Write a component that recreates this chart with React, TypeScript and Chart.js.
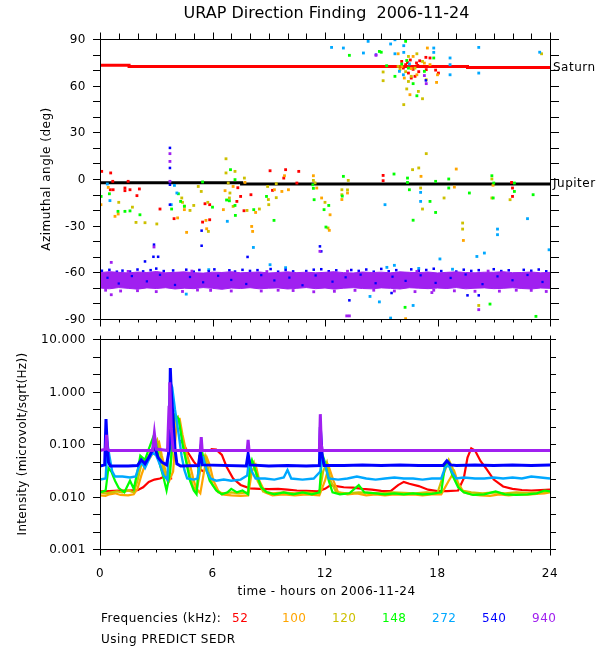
import React, { useEffect, useRef } from "react";
import { Chart, registerables } from "chart.js";

Chart.register(...registerables);

type Pt = [number, number | null];

// ---------------- axes / labels ----------------
const titleText = "URAP Direction Finding  2006-11-24";
const xTitle = "time - hours on 2006-11-24";
const topYTitle = "Azimuthal angle (deg)";
const bottomYTitle = "Intensity (microvolt/sqrt(Hz))";
const legendLabel = "Frequencies (kHz):";
const footNote = "Using PREDICT SEDR";
const hourTicks = [0, 1, 2, 3, 4, 5, 6, 7, 8, 9, 10, 11, 12, 13, 14, 15, 16, 17, 18, 19, 20, 21, 22, 23, 24];
const hourLabels = [0, 6, 12, 18, 24];
const angleTicks = [-90, -80, -70, -60, -50, -40, -30, -20, -10, 0, 10, 20, 30, 40, 50, 60, 70, 80, 90];
const angleLabels = [90, 60, 30, 0, -30, -60, -90];
const intensityTicks = [0.001, 0.00215, 0.00464, 0.01, 0.0215, 0.0464, 0.1, 0.215, 0.464, 1, 2.15, 4.64, 10];
const intensityLabels = [10, 1, 0.1, 0.01, 0.001];
const frequencies = ["52", "100", "120", "148", "272", "540", "940"];
const planetLabels = ["Saturn", "Jupiter"];
const planetLabelAngles = [72.3, -2.8];

const colors = ["#ff0000", "#ffa500", "#cdc000", "#00ff00", "#00a8ff", "#0000ff", "#a020f0"];

// ---------------- top panel: azimuthal angle ----------------
const saturnLine: Pt[] = [[0, 73.1], [1.55, 73.1], [1.55, 72.3], [19.6, 72.3], [19.6, 71.7], [24, 71.7]];
const jupiterLine: Pt[] = [[0, -2.4], [7.55, -2.4], [7.55, -3.2], [24, -3.2]];

const red52Angles: Pt[] = [
  [0.09, 4.9], [0.57, 3.9], [0.68, -1.5], [0.55, -6.9], [0.7, -6.9], [1.33, -5.8], [1.33, -7.5], [1.6, -6.9],
  [1.5, -1.5], [2.1, -6.4], [1.97, -10.7], [3.2, -19.3], [3.95, -25.5], [5.47, -27.7], [5.6, -15.9], [5.85, -16.5],
  [5.85, -26.2], [7.3, -14.4], [7.35, -5.6], [7.5, -11.2], [7.68, -20.4], [8.05, -10.1], [9.07, 5.3], [9.2, -7.3],
  [9.9, 6.0], [9.8, 0.6], [10.5, -2.6], [10.6, 4.9], [15.1, 2.3], [15.1, -1.1], [21.95, -2.2], [22.0, -5.8],
  [22.0, -11.2], [16.09, 75.6], [17.05, 76.0], [17.38, 78.2], [17.6, 77.8], [16.88, 74.6], [16.18, 71.3],
  [16.45, 68.1], [16.8, 66.0], [16.6, 64.9], [17.2, 72.4], [17.78, 72.4], [18.05, 68.1], [17.4, 70.3],
  [16.3, 73.5], [16.7, 70.5], [17.0, 69.0], [16.55, 76.5], [17.9, 70.0], [16.95, 73.0], [16.4, 74.8]
];
const orange100Angles: Pt[] = [
  [0.44, -5.4], [0.05, -16.5], [0.8, -24], [0.97, -22.5], [4.62, -34.3], [4.14, -25], [4.5, -19.7], [5.69, -32],
  [5.65, -26.6], [6.67, -7.5], [6.58, -19.7], [7.1, -4.8], [7.73, -2.2], [8.09, -30.5], [8.14, -33.7], [8.3, -21.5],
  [9.3, -6.9], [9.7, -8.0], [9.84, 2.1], [10.05, -6.9], [11.38, 2.1], [11.56, -5.8], [11.82, -12.2], [12.27, -23],
  [12.23, -33], [12.9, -13.2], [13.2, -9], [17.12, 1.7], [18.9, -5.2], [19.38, -39.5], [19.0, 6.4], [20.96, -4],
  [16.3, -89.8], [15.9, 80.5], [16.7, 78.8], [17.46, 84.2], [16.23, 64.9], [16.9, 67], [17.6, 73.5], [18.0, 67],
  [17.95, 62.1], [16.53, 54.2], [16.1, 72.4], [16.6, 71], [17.3, 74.5]
];
const yellow120Angles: Pt[] = [
  [1.0, -15], [1.92, -27.9], [2.4, -28.1], [3.03, -28.9], [1.73, -18.1], [4.36, -12.2], [4.4, -15], [4.5, -17.5],
  [4.8, -20.2], [5.0, -17], [5.24, -4.8], [5.4, -8], [5.75, -15], [5.78, -33.7], [6.72, 13], [6.72, 3.9], [6.84, -2.6],
  [6.93, -9], [6.9, -12.2], [7.1, -17.6], [7.2, 4.9], [7.7, 0.6], [7.84, -20.2], [8.94, -4.8], [8.98, -13.2],
  [9.0, -16.5], [8.5, -19.3], [9.4, -3], [9.4, -12], [11.38, -0.9], [11.47, -2.5], [12.0, -15], [12.16, -31.5],
  [12.9, -6.9], [12.9, -10.1], [13.24, -0.9], [13.2, -7], [17.4, 16.3], [16.67, 6], [17.0, 7.1], [17.1, -5.8],
  [17.2, -19.3], [18.35, -12.2], [19.34, -28.3], [19.34, -32.2], [20.9, 0], [20.9, -12.2], [21.87, -13.3],
  [20.2, -81.3], [15.1, 68.8], [15.1, 63.2], [16.2, 47.8], [16.36, 57.9], [16.45, 78.8], [16.9, 80.5], [16.98, 56.3],
  [17.2, 51.6], [16.45, 62.7], [16.8, 71.3], [17.4, 63.8], [15.9, 72.4], [17.2, 75.6], [16.3, 69], [16.6, 66],
  [16.0, 70.5], [23.55, 80.5]
];
const green148Angles: Pt[] = [
  [0.06, -11.2], [0.5, -9.5], [0.96, -20.8], [1.33, -20.8], [1.6, -20.5], [2.13, -23], [3.82, -19.3], [4.18, -9.5],
  [4.3, -14.4], [4.5, -17.5], [5.47, -1.9], [6.0, -18.1], [6.9, -14], [6.96, 6], [7.2, -0.4], [7.22, -23.4],
  [7.2, -17], [6.75, -13.5], [8.2, -19.7], [8.88, -11.2], [9.28, -26.6], [11.35, -3.7], [11.38, -6], [11.42, -13.3],
  [11.95, -19.7], [12.05, -30.9], [12.2, -17], [12.98, 1.7], [12.92, -11], [15.68, 3.2], [16.4, 0.6], [16.4, -2.2],
  [16.5, -6.9], [17.6, -14.4], [17.9, -1.5], [17.9, -21.5], [18.6, 0], [18.6, -5.8], [19.7, -9], [20.9, 2.1],
  [21.0, -2.6], [20.97, -12.2], [22.1, -2.6], [22.1, -8], [23.1, -10.1], [16.27, -82.5], [20.8, -80.4],
  [23.25, -88.3], [16.7, -26.5], [13.3, 79.5], [14.9, 82], [15.0, 81.5], [16.3, 88.5], [15.29, 72.8], [16.09, 73.9],
  [16.45, 71.3], [16.36, 76.2], [15.73, 66], [16.7, 61.3], [16.9, 53.5], [17.8, 77.8], [17.3, 69.2]
];
const lightBlue272Angles: Pt[] = [
  [0.39, -3.2], [0.53, -13.9], [3.97, -4.1], [4.1, -9], [3.8, -16.5], [6.79, -27.2], [8.18, -44], [9.07, -55.1],
  [5.8, -58.3], [4.6, -74], [9.9, -57], [17.1, -8.6], [17.1, -14.4], [15.2, -16.5], [22.8, -25.5], [21.2, -32.2],
  [21.2, -35.8], [20.5, -47.6], [20.1, -49.8], [18.13, -51.4], [23.95, -45.5], [15.7, -55.5], [14.4, -75.5],
  [14.9, -79], [15.5, -89.4], [16.7, -81.3], [12.98, 84.2], [14.3, 88.5], [15.5, 86.8], [15.73, 89.5], [16.2, 85.7],
  [16.2, 81.4], [15.73, 80.5], [14.05, 81], [17.8, 84.2], [17.8, 81.4], [18.67, 77.8], [18.67, 73.5], [18.67, 67],
  [20.2, 84.6], [20.2, 68.1], [16.18, 67], [15.97, 69.2], [16.5, 74], [23.45, 81.5], [12.35, 84.6],
  [15.3, -56.8], [17.0, -57.5], [18.8, -58.0]
];
const blue540Angles: Pt[] = [
  [3.73, 20], [3.73, 7.1], [3.73, -3.7], [3.73, -16.5], [2.88, -42.2], [2.4, -53], [5.42, -33.2], [5.42, -42.9],
  [7.87, -50.1], [11.73, -43.3], [11.8, -46.5], [2.85, -50], [3.1, -50], [13.3, -78], [19.6, -74.8], [20.2, -74.8],
  [15.55, -73.3], [14.72, 79.9], [17.38, 63.4],
  [0.1, -59.0], [0.5, -58.4], [0.9, -59.6], [1.2, -58.9], [1.6, -59.5], [2.0, -58.2], [2.3, -59.4], [2.7, -58.6],
  [3.0, -57.6], [3.4, -59.2], [3.9, -58.8], [4.6, -58.3], [5.0, -59.6], [5.3, -58.5], [5.8, -59.4],
  [6.1, -58.1], [6.9, -58.7], [7.2, -59.5], [7.6, -58.4], [8.0, -59.1], [8.4, -58.6], [9.1, -57.9], [9.5, -59.6],
  [9.9, -58.5], [10.3, -59.4], [11.0, -59.2], [11.4, -58.3], [11.8, -58.0], [12.2, -59.3], [12.6, -58.7],
  [13.4, -58.5], [13.8, -59.1], [14.2, -58.2], [14.6, -59.6], [15.0, -57.8], [15.4, -59.3], [15.8, -58.6],
  [16.6, -58.1], [17.0, -59.0], [17.4, -58.5], [17.8, -57.7], [18.2, -59.2], [19.0, -59.5], [19.4, -58.3],
  [19.8, -59.1], [20.2, -58.6], [21.0, -58.0], [21.4, -59.2], [21.8, -58.7], [22.6, -58.4], [23.0, -59.0],
  [23.4, -58.2], [23.8, -59.3]
];
const blue540InBand: Pt[] = [
  [0.4, -63.5], [1.0, -67.2], [1.7, -62.4], [2.5, -65.8], [3.2, -61.6], [4.0, -68.1], [4.8, -63.0], [5.5, -66.4],
  [6.3, -62.2], [7.0, -64.9], [7.8, -67.5], [8.6, -61.8], [9.3, -65.2], [10.1, -63.4], [10.8, -68.3], [11.5, -62.0],
  [12.4, -66.0], [13.1, -63.2], [13.9, -61.5], [14.7, -67.0], [15.6, -62.8], [16.3, -65.5], [17.1, -61.9],
  [17.9, -66.8], [18.7, -63.6], [19.5, -61.4], [20.4, -67.6], [21.2, -62.6], [22.0, -65.1], [22.8, -61.7], [23.6, -66.2]
];
const purple940Angles: Pt[] = [
  [3.73, 16.3], [3.73, 11.3], [3.73, -1.5], [0.6, -53.6], [0.6, -74.4], [2.88, -43.7], [11.73, -46.5], [13.3, -88],
  [20.2, -84], [13.16, -88], [17.7, -73], [14.72, 79.5], [17.4, 61.3], [17.3, 66.5],
  [0.3, -71.5], [1.1, -72], [2.0, -71.8], [3.0, -72.4], [4.4, -72.3], [5.2, -71.4], [5.9, -71.6], [7.0, -72.0],
  [8.6, -72], [9.5, -71.5], [10.3, -71.7], [11.4, -72.5], [12.5, -72.2], [13.6, -71.6], [14.6, -71.5],
  [15.7, -72.0], [16.8, -72.4], [17.8, -71.5], [18.9, -71.9], [20.0, -72.2], [21.3, -72.1], [22.2, -71.5],
  [23.0, -71.6], [23.8, -72.3], [1.5, -59.4], [4.9, -59.2], [8.9, -59.5], [13.2, -59.3], [16.9, -59.4], [20.7, -59.2]
];
const bandHours = [0, 0.5, 1, 1.5, 2, 2.5, 3, 3.5, 4, 4.5, 5, 5.5, 6, 6.5, 7, 7.5, 8, 8.5, 9, 9.5, 10, 10.5, 11, 11.5,
  12, 12.5, 13, 13.5, 14, 14.5, 15, 15.5, 16, 16.5, 17, 17.5, 18, 18.5, 19, 19.5, 20, 20.5, 21, 21.5, 22, 22.5, 23, 23.5, 24];
const bandUpper = [-60.2, -59.6, -60.0, -60.4, -59.8, -60.1, -59.5, -60.3, -60.0, -59.7, -60.2, -60.5, -59.9, -60.1,
  -59.6, -60.3, -60.0, -59.8, -60.4, -60.1, -59.7, -60.2, -59.9, -60.3, -60.0, -59.6, -60.2, -60.4, -59.8, -60.1,
  -59.9, -60.3, -59.7, -60.0, -60.2, -59.8, -60.4, -60.0, -59.7, -60.1, -60.3, -59.9, -60.0, -59.6, -60.2, -60.1,
  -59.8, -60.3, -60.0];
const bandLower = [-70.1, -70.6, -69.8, -70.3, -70.8, -70.0, -70.4, -69.9, -70.7, -70.2, -70.5, -69.8, -70.3, -70.9,
  -70.1, -70.4, -69.9, -70.6, -70.2, -70.0, -70.7, -70.3, -69.8, -70.5, -70.1, -70.8, -70.2, -69.9, -70.4, -70.6,
  -70.0, -70.3, -70.7, -69.9, -70.2, -70.5, -70.1, -70.4, -69.8, -70.6, -70.2, -70.0, -70.5, -70.3, -69.9, -70.4,
  -70.7, -70.1, -70.3];

// ---------------- bottom panel: intensity ----------------
const red52Intensity: Pt[] = [
  [0, 0.0125], [0.5, 0.0127], [1.0, 0.013], [1.5, 0.013], [2.0, 0.0132], [2.3, 0.015], [2.6, 0.019], [2.9, 0.021],
  [3.2, 0.022], [3.5, 0.0245], [3.7, 0.022], [3.85, 0.022], [4.0, null], [4.3, 0.12], [4.45, 0.1], [4.7, 0.068],
  [5.0, 0.046], [5.3, 0.034], [5.5, 0.03], [5.7, null], [5.9, 0.08], [6.2, 0.078], [6.5, 0.062], [6.75, 0.037],
  [7.1, 0.022], [7.5, 0.0166], [8.0, 0.0143], [8.5, 0.014], [9.0, 0.0138], [9.5, 0.014], [10.0, 0.0135],
  [10.5, 0.013], [11.0, 0.0128], [11.6, 0.0125], [12.0, 0.014], [12.3, 0.0165], [12.6, 0.0158], [13.0, 0.015],
  [13.5, 0.0148], [14.0, 0.014], [14.5, 0.0135], [15.0, 0.0128], [15.5, 0.0127], [15.9, 0.0165], [16.2, 0.019],
  [16.5, 0.0175], [17.0, 0.0158], [17.5, 0.0135], [18.0, 0.0127], [18.5, 0.0127], [19.1, 0.013], [19.4, 0.022],
  [19.6, 0.055], [19.8, 0.083], [20.0, 0.075], [20.3, 0.047], [20.6, 0.034], [21.0, 0.021], [21.5, 0.0155],
  [22.0, 0.014], [22.5, 0.0133], [23.0, 0.013], [23.5, 0.0132], [24, 0.0135]
];
const orange100Intensity: Pt[] = [
  [0, 0.0105], [0.3, 0.0103], [0.5, 0.011], [0.8, 0.0115], [1.1, 0.0107], [1.5, 0.0105], [1.8, 0.011], [2.0, 0.014],
  [2.2, 0.025], [2.4, 0.04], [2.6, 0.05], [2.8, 0.065], [3.0, 0.1], [3.15, 0.11], [3.3, 0.06], [3.5, 0.03],
  [3.7, 0.02], [3.9, 0.03], [4.1, 0.3], [4.25, 0.3], [4.4, 0.15], [4.6, 0.07], [4.8, 0.04], [5.0, 0.02],
  [5.15, 0.014], [5.35, 0.0115], [5.55, 0.03], [5.7, 0.055], [5.85, 0.04], [6.05, 0.02], [6.3, 0.013], [6.5, 0.011],
  [7.0, 0.0105], [7.5, 0.0103], [7.9, 0.0105], [8.1, 0.03], [8.3, 0.04], [8.5, 0.02], [8.8, 0.012], [9.2, 0.0105],
  [9.8, 0.011], [10.4, 0.0105], [11.0, 0.011], [11.7, 0.0105], [12.0, 0.02], [12.2, 0.037], [12.45, 0.02],
  [12.7, 0.012], [13.2, 0.011], [13.7, 0.0115], [14.2, 0.0105], [14.7, 0.011], [15.2, 0.0105], [15.7, 0.011],
  [16.2, 0.0108], [16.7, 0.011], [17.2, 0.0105], [17.7, 0.011], [18.2, 0.011], [18.6, 0.02], [18.9, 0.03],
  [19.1, 0.018], [19.4, 0.012], [19.8, 0.011], [20.3, 0.0105], [20.8, 0.0103], [21.3, 0.011], [21.8, 0.0105],
  [22.3, 0.011], [22.8, 0.0108], [23.3, 0.0112], [23.7, 0.0115], [24, 0.012]
];
const yellow120Intensity: Pt[] = [
  [0, 0.012], [0.3, 0.0115], [0.6, 0.012], [0.9, 0.0125], [1.2, 0.012], [1.5, 0.013], [1.8, 0.012], [2.0, 0.02],
  [2.2, 0.04], [2.4, 0.05], [2.6, 0.06], [2.85, 0.09], [3.05, 0.12], [3.2, 0.07], [3.4, 0.03], [3.6, 0.02],
  [3.8, 0.05], [4.0, 0.3], [4.15, 0.33], [4.35, 0.15], [4.55, 0.06], [4.75, 0.03], [4.95, 0.016], [5.15, 0.0125],
  [5.4, 0.04], [5.6, 0.06], [5.8, 0.03], [6.0, 0.017], [6.3, 0.012], [6.6, 0.0115], [7.0, 0.012], [7.4, 0.0115],
  [7.9, 0.012], [8.0, 0.035], [8.2, 0.045], [8.4, 0.02], [8.7, 0.0125], [9.2, 0.0115], [9.8, 0.012], [10.4, 0.0115],
  [11.0, 0.012], [11.7, 0.0115], [11.9, 0.03], [12.1, 0.045], [12.3, 0.02], [12.6, 0.012], [13.2, 0.0115],
  [13.8, 0.012], [14.4, 0.0118], [15.0, 0.0115], [15.6, 0.012], [16.2, 0.0118], [16.8, 0.0115], [17.4, 0.012],
  [18.0, 0.0118], [18.3, 0.025], [18.6, 0.05], [18.8, 0.035], [19.0, 0.02], [19.3, 0.013], [19.8, 0.012],
  [20.4, 0.0115], [21.0, 0.012], [21.6, 0.0115], [22.2, 0.012], [22.8, 0.0118], [23.4, 0.012], [24, 0.0125]
];
const green148Intensity: Pt[] = [
  [0, 0.012], [0.3, 0.013], [0.45, 0.035], [0.6, 0.03], [0.8, 0.02], [1.0, 0.0145], [1.3, 0.012], [1.6, 0.02],
  [1.8, 0.014], [2.0, 0.03], [2.15, 0.06], [2.4, 0.05], [2.6, 0.08], [2.85, 0.14], [3.0, 0.1], [3.2, 0.04],
  [3.4, 0.022], [3.55, 0.013], [3.75, 0.03], [3.9, 0.25], [4.0, 0.36], [4.2, 0.3], [4.4, 0.1], [4.6, 0.045],
  [4.8, 0.02], [5.0, 0.013], [5.15, 0.011], [5.3, 0.06], [5.45, 0.07], [5.6, 0.04], [5.85, 0.02], [6.2, 0.013],
  [6.5, 0.011], [6.8, 0.012], [7.0, 0.014], [7.3, 0.012], [7.6, 0.013], [7.9, 0.011], [8.0, 0.04], [8.1, 0.05],
  [8.3, 0.03], [8.6, 0.015], [8.9, 0.012], [9.3, 0.011], [9.8, 0.012], [10.3, 0.011], [10.8, 0.012], [11.3, 0.011],
  [11.7, 0.012], [11.85, 0.065], [12.0, 0.045], [12.2, 0.02], [12.4, 0.012], [12.8, 0.011], [13.3, 0.0115],
  [13.8, 0.0165], [14.1, 0.012], [14.7, 0.0115], [15.2, 0.011], [15.7, 0.0115], [16.2, 0.011], [16.7, 0.0115],
  [17.2, 0.011], [17.7, 0.0112], [18.2, 0.012], [18.4, 0.04], [18.55, 0.045], [18.8, 0.025], [19.1, 0.015],
  [19.4, 0.012], [19.9, 0.0107], [20.5, 0.011], [21.1, 0.0125], [21.6, 0.011], [22.2, 0.0107], [22.8, 0.011],
  [23.3, 0.0115], [23.7, 0.013], [24, 0.0125]
];
const lightBlue272Intensity: Pt[] = [
  [0, 0.021], [0.3, 0.022], [0.4, 0.1], [0.5, 0.06], [0.65, 0.03], [0.8, 0.024], [1.2, 0.024], [1.6, 0.023],
  [1.9, 0.024], [2.05, 0.035], [2.2, 0.045], [2.4, 0.035], [2.6, 0.05], [2.8, 0.07], [3.0, 0.06], [3.2, 0.04],
  [3.4, 0.025], [3.6, 0.021], [3.75, 1.5], [3.85, 1.2], [4.0, 0.45], [4.2, 0.15], [4.35, 0.06], [4.5, 0.032],
  [4.65, 0.022], [5.0, 0.021], [5.2, 0.022], [5.35, 0.05], [5.5, 0.055], [5.7, 0.03], [5.9, 0.022], [6.2, 0.02],
  [6.6, 0.021], [7.0, 0.02], [7.5, 0.021], [7.85, 0.025], [7.95, 0.05], [8.1, 0.03], [8.3, 0.022], [8.8, 0.022],
  [9.3, 0.021], [9.8, 0.023], [10.0, 0.032], [10.2, 0.022], [10.8, 0.021], [11.4, 0.022], [11.75, 0.03],
  [11.85, 0.06], [12.0, 0.04], [12.2, 0.022], [12.7, 0.021], [13.2, 0.022], [13.7, 0.024], [14.2, 0.022],
  [14.7, 0.021], [15.2, 0.022], [15.7, 0.023], [16.2, 0.022], [16.7, 0.022], [17.2, 0.021], [17.7, 0.022],
  [18.2, 0.022], [18.4, 0.035], [18.6, 0.04], [18.8, 0.028], [19.0, 0.022], [19.4, 0.023], [20.0, 0.022],
  [20.5, 0.022], [21.0, 0.023], [21.5, 0.022], [22.0, 0.023], [22.5, 0.022], [23.0, 0.024], [23.5, 0.023], [24, 0.022]
];
const blue540Intensity: Pt[] = [
  [0, 0.038], [0.25, 0.04], [0.32, 0.3], [0.38, 0.1], [0.45, 0.045], [0.55, 0.038], [1.5, 0.038], [2.0, 0.039],
  [2.2, 0.05], [2.4, 0.042], [2.6, 0.055], [2.9, 0.09], [3.1, 0.055], [3.3, 0.045], [3.55, 0.04], [3.7, 0.08],
  [3.75, 2.8], [3.8, 1.0], [3.9, 0.3], [4.0, 0.08], [4.1, 0.042], [4.3, 0.038], [5.25, 0.039], [5.35, 0.07],
  [5.45, 0.04], [7.8, 0.038], [7.9, 0.065], [8.0, 0.04], [9.0, 0.038], [10.0, 0.039], [11.0, 0.038], [11.7, 0.039],
  [11.75, 0.21], [11.85, 0.06], [11.95, 0.039], [13.0, 0.039], [14.0, 0.04], [15.0, 0.039], [16.0, 0.04],
  [17.0, 0.039], [18.3, 0.039], [18.5, 0.048], [18.7, 0.04], [19.0, 0.039], [20.0, 0.04], [21.0, 0.039],
  [22.0, 0.04], [23.0, 0.039], [24, 0.04]
];
const purple940Intensity: Pt[] = [
  [0, 0.075], [0.3, 0.08], [0.35, 0.15], [0.4, 0.08], [0.5, 0.075], [2.8, 0.075], [2.9, 0.16], [3.0, 0.08],
  [3.6, 0.075], [3.68, 0.5], [3.72, 1.5], [3.76, 0.6], [3.8, 0.2], [3.9, 0.075], [5.35, 0.075], [5.4, 0.135],
  [5.45, 0.075], [7.85, 0.075], [7.9, 0.12], [7.95, 0.075], [11.7, 0.075], [11.75, 0.37], [11.8, 0.1],
  [11.85, 0.075], [24, 0.075]
];

// ---------------- helpers ----------------
const toXY = (arr: Pt[]) => arr.map(([x, y]) => ({ x, y }));
const FONT = '"DejaVu Sans", "Liberation Sans", sans-serif';

function text(ctx: any, s: string, x: number, y: number, align: string, size: number, color = "#000", spacing = "0.5px", rotate = false) {
  ctx.save();
  ctx.font = `${size}px ${FONT}`;
  ctx.fillStyle = color;
  ctx.textAlign = align;
  ctx.textBaseline = "middle";
  try { ctx.letterSpacing = spacing; } catch (e) { /* ignore */ }
  if (rotate) {
    ctx.translate(x, y);
    ctx.rotate(-Math.PI / 2);
    ctx.fillText(s, 0, 0);
  } else {
    ctx.fillText(s, x, y);
  }
  ctx.restore();
}

function drawFrame(ctx: any, xs: any, L: number, R: number, T: number, B: number, topLen: [number, number], botLen: [number, number]) {
  ctx.strokeStyle = "#000";
  ctx.lineWidth = 1;
  ctx.beginPath();
  ctx.rect(L + 0.5, T + 0.5, R - L, B - T);
  for (const h of hourTicks) {
    const p = Math.round(xs.getPixelForValue(h)) + 0.5;
    const major = h % 6 === 0;
    ctx.moveTo(p, T + 0.5);
    ctx.lineTo(p, T + 0.5 - (major ? topLen[1] : topLen[0]));
    ctx.moveTo(p, B + 0.5);
    ctx.lineTo(p, B + 0.5 + (major ? botLen[1] : botLen[0]));
  }
  ctx.stroke();
}

const topPlugin = {
  id: "topAxes",
  afterDraw(chart: any) {
    const { ctx, scales } = chart;
    const xs = scales.x, ys = scales.y;
    const L = Math.round(xs.getPixelForValue(0)), R = Math.round(xs.getPixelForValue(24));
    const T = Math.round(ys.getPixelForValue(90)), B = Math.round(ys.getPixelForValue(-90));
    ctx.save();
    drawFrame(ctx, xs, L, R, T, B, [6, 7], [3, 7]);
    ctx.beginPath();
    for (const v of angleTicks) {
      const p = Math.round(ys.getPixelForValue(v)) + 0.5;
      ctx.moveTo(L - 7, p); ctx.lineTo(L + 0.5, p);
      ctx.moveTo(R + 0.5, p); ctx.lineTo(R + 9, p);
    }
    ctx.stroke();
    for (const v of angleLabels) text(ctx, String(v), 86, ys.getPixelForValue(v) + 1, "right", 12);
    planetLabels.forEach((s, i) => text(ctx, s, R + 3, ys.getPixelForValue(planetLabelAngles[i]) + 1, "left", 12));
    text(ctx, titleText, 326.5, 14, "center", 16, "#000", "0px");
    text(ctx, topYTitle, 47, (T + B) / 2, "center", 12, "#000", "0.5px", true);
    ctx.restore();
  },
};

const bottomPlugin = {
  id: "bottomAxes",
  afterDraw(chart: any) {
    const { ctx, scales } = chart;
    const xs = scales.x, ys = scales.y;
    const L = Math.round(xs.getPixelForValue(0)), R = Math.round(xs.getPixelForValue(24));
    const T = Math.round(ys.getPixelForValue(10)), B = Math.round(ys.getPixelForValue(0.001));
    ctx.save();
    drawFrame(ctx, xs, L, R, T, B, [4, 4], [3, 6]);
    ctx.beginPath();
    for (const v of intensityTicks) {
      const p = Math.round(ys.getPixelForValue(v)) + 0.5;
      ctx.moveTo(L - 7, p); ctx.lineTo(L + 0.5, p);
      ctx.moveTo(R + 0.5, p); ctx.lineTo(R + 6, p);
    }
    ctx.stroke();
    for (const v of intensityLabels) text(ctx, v.toFixed(3), 86, ys.getPixelForValue(v) + 1, "right", 12);
    for (const h of hourLabels) text(ctx, String(h), xs.getPixelForValue(h), 244, "center", 12);
    text(ctx, xTitle, 326.5, 262, "center", 12);
    text(ctx, legendLabel, 101, 289, "left", 12);
    frequencies.forEach((f, i) => text(ctx, f, 232 + i * 50, 289, "left", 12, colors[i]));
    text(ctx, footNote, 101, 310, "left", 12);
    text(ctx, bottomYTitle, 23, (T + B) / 2, "center", 12, "#000", "0.3px", true);
    ctx.restore();
  },
};

function scatterSet(data: Pt[], color: string, order: number, radius = 2) {
  return {
    data: toXY(data), backgroundColor: color, borderColor: color, borderWidth: 0,
    pointStyle: "rect", pointRadius: radius, showLine: false, order,
  };
}
function lineSet(data: Pt[], color: string, width: number, order: number) {
  return {
    data: toXY(data), borderColor: color, backgroundColor: color, borderWidth: width,
    pointRadius: 0, showLine: true, spanGaps: false, order, tension: 0,
  };
}

export default function App() {
  const topRef = useRef<HTMLCanvasElement>(null);
  const botRef = useRef<HTMLCanvasElement>(null);

  useEffect(() => {
    const common = {
      responsive: false,
      animation: false,
      devicePixelRatio: 1,
      events: [],
      plugins: { legend: { display: false }, tooltip: { enabled: false }, title: { display: false } },
    };
    const bandLowerPts: Pt[] = bandHours.map((h, i) => [h, bandLower[i]]);
    const bandUpperPts: Pt[] = bandHours.map((h, i) => [h, bandUpper[i]]);

    const top = new Chart(topRef.current as HTMLCanvasElement, {
      type: "scatter",
      data: {
        datasets: [
          lineSet(saturnLine, "#ff0000", 3, 20),
          lineSet(jupiterLine, "#000000", 3, 19),
          scatterSet(red52Angles, colors[0], 18),
          scatterSet(orange100Angles, colors[1], 17),
          scatterSet(yellow120Angles, colors[2], 16),
          scatterSet(green148Angles, colors[3], 15),
          scatterSet(lightBlue272Angles, colors[4], 14),
          scatterSet(blue540Angles, colors[5], 13, 1.8),
          { ...lineSet(bandLowerPts, colors[6], 1, 12) },
          { ...lineSet(bandUpperPts, colors[6], 1, 11), fill: "-1" },
          scatterSet(purple940Angles, colors[6], 10),
          scatterSet(blue540InBand, colors[5], 9, 1.6),
        ] as any,
      },
      options: {
        ...common,
        layout: { padding: { left: 100, right: 50, top: 39, bottom: 11 } },
        scales: {
          x: { type: "linear", min: 0, max: 24, display: false },
          y: { type: "linear", min: -90, max: 90, display: false },
        },
      } as any,
      plugins: [topPlugin],
    });

    const bottom = new Chart(botRef.current as HTMLCanvasElement, {
      type: "scatter",
      data: {
        datasets: [
          lineSet(red52Intensity, colors[0], 2.2, 6),
          lineSet(orange100Intensity, colors[1], 2.2, 5),
          lineSet(yellow120Intensity, colors[2], 2.2, 4),
          lineSet(green148Intensity, colors[3], 2.2, 3),
          lineSet(lightBlue272Intensity, colors[4], 2.4, 2),
          lineSet(blue540Intensity, colors[5], 3, 1),
          lineSet(purple940Intensity, colors[6], 3, 0),
        ] as any,
      },
      options: {
        ...common,
        layout: { padding: { left: 100, right: 50, top: 9, bottom: 101 } },
        scales: {
          x: { type: "linear", min: 0, max: 24, display: false },
          y: { type: "logarithmic", min: 0.001, max: 10, display: false },
        },
      } as any,
      plugins: [bottomPlugin],
    });

    return () => {
      top.destroy();
      bottom.destroy();
    };
  }, []);

  return (
    <div style={{ position: "absolute", left: 0, top: 0, width: 600, height: 650, background: "#fff" }}>
      <canvas ref={topRef} width={600} height={330} style={{ position: "absolute", left: 0, top: 0, width: 600, height: 330 }} />
      <canvas ref={botRef} width={600} height={320} style={{ position: "absolute", left: 0, top: 330, width: 600, height: 320 }} />
    </div>
  );
}
